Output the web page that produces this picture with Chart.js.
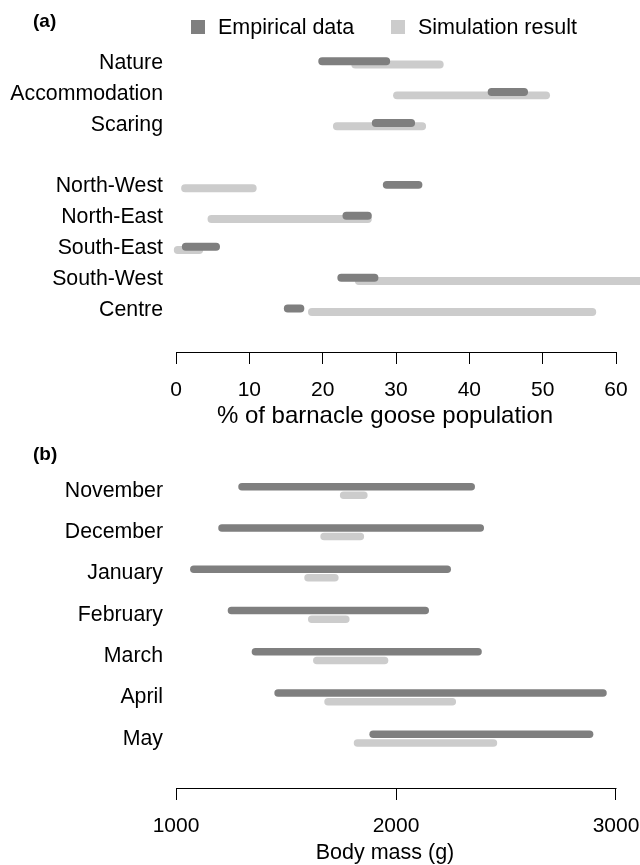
<!DOCTYPE html>
<html>
<head>
<meta charset="utf-8">
<script src="https://cdn.jsdelivr.net/npm/chart.js@4.4.1/dist/chart.umd.min.js"></script>
<style>
  body { margin: 0; background: #fff; font-family: "Liberation Sans", Arial, sans-serif; color: #000; }
  #wrap { position: relative; width: 640px; height: 865px; overflow: hidden; }
  canvas { position: absolute; left: 0; }
  #chartA { top: 0; }
  #chartB { top: 430px; }
  .tag { position: absolute; left: 33px; font-weight: bold; font-size: 19px; line-height: 24px; }
  .key { position: absolute; width: 14px; height: 14px; top: 20px; }
  .keyText { position: absolute; top: 15px; font-size: 21.5px; line-height: 24px; white-space: nowrap; }
  .axisTitle { position: absolute; left: 185px; width: 400px; text-align: center; line-height: 26px; white-space: nowrap; }
</style>
</head>
<body>
<div id="wrap">
  <canvas id="chartA" width="640" height="430"></canvas>
  <canvas id="chartB" width="640" height="435"></canvas>
  <div class="tag" style="top:9px">(a)</div>
  <div class="tag" style="top:442px">(b)</div>
  <div class="key" style="left:191px;background:#7f7f7f"></div>
  <div class="keyText" style="left:218px">Empirical data</div>
  <div class="key" style="left:391px;background:#cccccc"></div>
  <div class="keyText" style="left:418px">Simulation result</div>
  <div class="axisTitle" style="top:402px;font-size:24px">% of barnacle goose population</div>
  <div class="axisTitle" style="top:839px;font-size:21.5px">Body mass (g)</div>
</div>
<script>
// Panel (a): share of the barnacle goose population (%), [low, high]
const groups = ["Nature", "Accommodation", "Scaring", "", "North-West", "North-East", "South-East", "South-West", "Centre"];
const empiricalPct = [[19.4, 29.2], [42.5, 48.0], [26.7, 32.6], null, [28.2, 33.6], [22.7, 26.7], [0.8, 6.0], [22.0, 27.6], [14.7, 17.5]];
const simulationPct = [[23.9, 36.5], [29.6, 51.0], [21.4, 34.1], null, [0.7, 11.0], [4.3, 26.7], [-0.3, 3.7], [24.4, 64.0], [18.0, 57.3]];
const pctTicks = [0, 10, 20, 30, 40, 50, 60];

// Panel (b): body mass (g), [low, high]
const months = ["November", "December", "January", "February", "March", "April", "May"];
const empiricalMass = [[1283, 2359], [1192, 2400], [1064, 2250], [1235, 2150], [1344, 2390], [1447, 2958], [1879, 2897]];
const simulationMass = [[1745, 1871], [1656, 1855], [1583, 1739], [1600, 1789], [1623, 1965], [1674, 2273], [1808, 2460]];
const massTicks = [1000, 2000, 3000];

const DARK = "#7f7f7f";
const LIGHT = "#cccccc";
const FAMILY = "'Liberation Sans', Arial, sans-serif";

// rows -> {x:[lo,hi], y:row}
const toPoints = arr => arr.map((r, i) => r && { x: r, y: i }).filter(Boolean);

// R-style axis line, only from first to last tick
const axisLine = {
  id: "axisLine",
  afterDraw(chart) {
    const s = chart.scales.x, t = s.ticks, ctx = chart.ctx;
    const y = Math.round(s.top) + 0.5;
    ctx.save();
    ctx.strokeStyle = "#000";
    ctx.lineWidth = 1;
    ctx.beginPath();
    ctx.moveTo(Math.round(s.getPixelForValue(t[0].value)) + 0.5, y);
    ctx.lineTo(Math.round(s.getPixelForValue(t[t.length - 1].value)) + 0.5, y);
    ctx.stroke();
    ctx.restore();
  }
};

function makeChart(id, labels, emp, sim, tickValues, o) {
  const barOpts = {
    categoryPercentage: o.catPct,
    barPercentage: o.barPct,
    borderRadius: 20,
    borderSkipped: false,
    clip: false
  };
  return new Chart(document.getElementById(id), {
    type: "bar",
    data: {
      datasets: [
        Object.assign({ label: "Empirical data", data: toPoints(emp), backgroundColor: DARK }, barOpts),
        Object.assign({ label: "Simulation result", data: toPoints(sim), backgroundColor: LIGHT }, barOpts)
      ]
    },
    options: {
      indexAxis: "y",
      responsive: false,
      animation: false,
      layout: { padding: { top: o.top, right: 14, left: 0, bottom: 0 } },
      plugins: { legend: { display: false }, tooltip: { enabled: false } },
      scales: {
        y: {
          type: "linear",
          reverse: true,
          offset: false,
          min: o.yMin,
          max: o.yMax,
          grid: { display: false, drawTicks: false, offset: false },
          border: { display: false },
          ticks: {
            autoSkip: false,
            padding: 3,
            color: "#000",
            font: { family: FAMILY, size: 21.3 },
            callback: v => labels[v] || ""
          },
          afterBuildTicks: s => { s.ticks = labels.map((_, i) => ({ value: i })); },
          afterFit: s => { s.width = 166; s.paddingTop = 0; s.paddingBottom = 0; }
        },
        x: {
          type: "linear",
          offset: false,
          min: o.xMin,
          max: o.xMax,
          grid: { drawOnChartArea: false, drawTicks: true, tickLength: 12, color: "#000", lineWidth: 1 },
          border: { display: false },
          ticks: {
            autoSkip: false, padding: 14, color: "#000", maxRotation: 0,
            font: { family: FAMILY, size: 21 },
            callback: v => String(v)
          },
          afterBuildTicks: s => { s.ticks = tickValues.map(v => ({ value: v })); },
          afterFit: s => { s.height = o.axisH; s.paddingLeft = 0; s.paddingRight = 0; }
        }
      }
    },
    plugins: [axisLine]
  });
}

// panel (a): 0 -> x=176, 60 -> x=616
makeChart("chartA", groups, empiricalPct, simulationPct, pctTicks, {
  top: 40, yMin: -0.737, yMax: 9.35, axisH: 78,
  xMin: -1.364, xMax: 61.36,
  catPct: 0.213, barPct: 2.42
});

// panel (b): 1000 -> x=176, 3000 -> x=616
makeChart("chartB", months, empiricalMass, simulationMass, massTicks, {
  top: 30, yMin: -0.751, yMax: 7.195, axisH: 77,
  xMin: 954.5, xMax: 3045.5,
  catPct: 0.417, barPct: 0.87
});
</script>
</body>
</html>
